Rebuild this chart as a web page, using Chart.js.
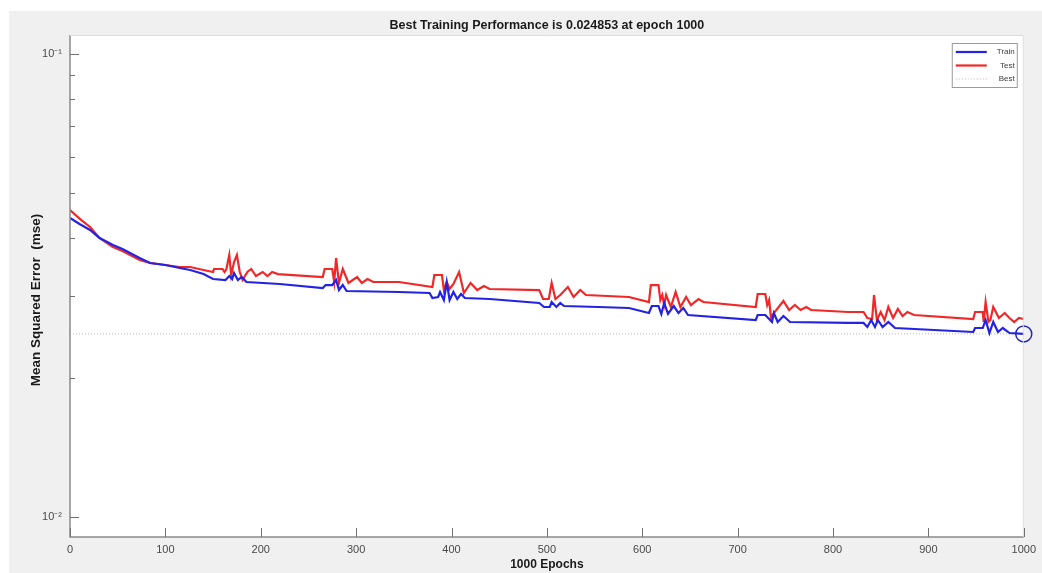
<!DOCTYPE html>
<html>
<head>
<meta charset="utf-8">
<title>Best Training Performance</title>
<script src="https://cdn.jsdelivr.net/npm/chart.js@4.4.1/dist/chart.umd.min.js"></script>
<style>
  html, body { margin: 0; padding: 0; background: #ffffff; }
  #figura {
    position: absolute; left: 9px; top: 11px;
    width: 1033px; height: 562px;
    background: #f0f0f0;
  }
  #grafico { display: block; }
</style>
</head>
<body>
<div id="figura"><canvas id="grafico" width="1033" height="562"></canvas></div>
<script>
// error de entrenamiento (mse) por epoca
const trainEpochs = [0, 10, 21, 31, 45, 55, 73, 84, 100, 115, 126, 140, 150, 163, 167, 170, 172, 176, 180, 185,
  220, 265, 268, 275, 279, 282, 286, 290, 345, 377, 380, 386, 388, 392, 395, 398, 402, 406, 410, 414,
  440, 492, 497, 503, 505, 510, 514, 518, 554, 586, 607, 610, 617, 620, 623, 627, 633, 638, 643, 648,
  719, 721, 729, 736, 738, 742, 748, 755, 816, 832, 836, 840, 844, 847, 852, 858, 865, 947, 949, 957,
  960, 964, 968, 973, 978, 985, 1000]
const trainMse = [0.04423, 0.04293, 0.04167, 0.04004, 0.03867, 0.03791, 0.03625, 0.03536, 0.03501, 0.03449,
  0.03415, 0.03347, 0.03265, 0.03249, 0.03314, 0.03265, 0.03364, 0.03249, 0.03298, 0.03217,
  0.03185, 0.03122, 0.03169, 0.03169, 0.03249, 0.03091, 0.03169, 0.03076, 0.03061, 0.03046,
  0.02971, 0.02986, 0.03061, 0.02941, 0.03217, 0.02941, 0.03061, 0.02956, 0.03031, 0.02971,
  0.02956, 0.02898, 0.02841, 0.02841, 0.02912, 0.02841, 0.02898, 0.02855, 0.02841, 0.02827,
  0.02757, 0.02855, 0.02855, 0.02744, 0.02898, 0.02744, 0.02855, 0.02757, 0.02827, 0.02730,
  0.02663, 0.02730, 0.02730, 0.02637, 0.02757, 0.02637, 0.02716, 0.02637, 0.02624, 0.02624,
  0.02572, 0.02663, 0.02572, 0.02663, 0.02572, 0.02637, 0.02559, 0.02509, 0.02559, 0.02559,
  0.02663, 0.02496, 0.02637, 0.02509, 0.02559, 0.02496, 0.024853]

// error de prueba (mse) por epoca
const testEpochs = [0, 10, 21, 31, 45, 55, 73, 84, 100, 115, 126, 140, 150, 151, 160, 162, 164, 167, 169, 172,
  175, 178, 181, 186, 190, 195, 202, 207, 212, 218, 265, 267, 275, 277, 279, 282, 286, 292, 301, 306,
  312, 318, 345, 380, 382, 390, 392, 395, 398, 402, 408, 413, 420, 427, 434, 440, 492, 496, 502, 505,
  509, 514, 522, 528, 535, 541, 586, 607, 609, 617, 619, 621, 623, 625, 630, 635, 640, 646, 651, 659,
  664, 719, 721, 729, 731, 733, 735, 738, 748, 754, 760, 766, 772, 777, 816, 832, 836, 841, 843, 846,
  850, 854, 858, 863, 868, 873, 878, 885, 947, 949, 957, 958, 960, 963, 965, 968, 974, 980, 985, 990,
  995, 1000]
const testMse = [0.04603, 0.04410, 0.04229, 0.04004, 0.03829, 0.03753, 0.03589, 0.03536, 0.03501, 0.03466,
  0.03466, 0.03415, 0.03381, 0.03432, 0.03432, 0.03381, 0.03432, 0.03679, 0.03331, 0.03553,
  0.03679, 0.03381, 0.03249, 0.03381, 0.03432, 0.03314, 0.03381, 0.03314, 0.03381, 0.03347,
  0.03298, 0.03432, 0.03432, 0.03217, 0.03625, 0.03201, 0.03432, 0.03201, 0.03298, 0.03201,
  0.03265, 0.03217, 0.03217, 0.03138, 0.03331, 0.03331, 0.03091, 0.03217, 0.03107, 0.03185,
  0.03381, 0.03046, 0.03201, 0.03091, 0.03154, 0.03107, 0.03091, 0.02956, 0.02956, 0.03201,
  0.02956, 0.03016, 0.03138, 0.02986, 0.03091, 0.03016, 0.02986, 0.02912, 0.03169, 0.03169,
  0.02941, 0.03016, 0.02869, 0.03016, 0.02841, 0.03061, 0.02841, 0.02986, 0.02869, 0.02956,
  0.02912, 0.02841, 0.03031, 0.03031, 0.02869, 0.02941, 0.02690, 0.02757, 0.02927, 0.02799,
  0.02869, 0.02799, 0.02841, 0.02799, 0.02771, 0.02771, 0.02690, 0.02676, 0.03016, 0.02663,
  0.02771, 0.02663, 0.02841, 0.02690, 0.02813, 0.02716, 0.02771, 0.02730, 0.02676, 0.02771,
  0.02771, 0.02637, 0.02912, 0.02637, 0.02663, 0.02841, 0.02690, 0.02757, 0.02690, 0.02637,
  0.02690, 0.02676]

const bestEpoch = 1000
const bestMse = 0.024853

// marcas de los ejes
const xTicks = [0, 100, 200, 300, 400, 500, 600, 700, 800, 900, 1000]
const yMajorTicks = [0.01, 0.1]
const yTickLabels = ['10⁻²', '10⁻¹']
const yMinorTicks = [0.02, 0.03, 0.04, 0.05, 0.06, 0.07, 0.08, 0.09]

const fuente = "'Liberation Sans', Arial, sans-serif"

const aPuntos = (xs, ys) => xs.map((x, i) => ({ x: x, y: ys[i] }))

// fondo blanco del area de ejes
const fondoEjes = {
    id: 'fondoEjes',
    beforeDraw(chart) {
        const { ctx, chartArea: a } = chart
        ctx.save()
        ctx.fillStyle = '#ffffff'
        ctx.fillRect(a.left, a.top, a.right - a.left, a.bottom - a.top)
        ctx.restore()
    }
}

// lineas de ejes y marcas hacia adentro, estilo matlab
const marcasEjes = {
    id: 'marcasEjes',
    afterDraw(chart) {
        const { ctx, chartArea: a, scales } = chart
        ctx.save()
        ctx.strokeStyle = '#8a8a8a'
        ctx.lineWidth = 1.5
        ctx.beginPath()
        ctx.moveTo(a.left, a.top)
        ctx.lineTo(a.left, a.bottom)
        ctx.lineTo(a.right, a.bottom)
        ctx.stroke()
        ctx.strokeStyle = '#dcdcdc'
        ctx.lineWidth = 1
        ctx.beginPath()
        ctx.moveTo(a.left, a.top + 0.5)
        ctx.lineTo(a.right - 0.5, a.top + 0.5)
        ctx.lineTo(a.right - 0.5, a.bottom)
        ctx.stroke()

        ctx.strokeStyle = '#707070'
        ctx.lineWidth = 1
        ctx.beginPath()
        xTicks.forEach(t => {
            const px = Math.round(scales.x.getPixelForValue(t)) + 0.5
            ctx.moveTo(px, a.bottom)
            ctx.lineTo(px, a.bottom - 9)
        })
        yMajorTicks.forEach(t => {
            const py = Math.round(scales.y.getPixelForValue(t)) + 0.5
            ctx.moveTo(a.left, py)
            ctx.lineTo(a.left + 9, py)
        })
        yMinorTicks.forEach(t => {
            const py = Math.round(scales.y.getPixelForValue(t)) + 0.5
            ctx.moveTo(a.left, py)
            ctx.lineTo(a.left + 5, py)
        })
        ctx.stroke()
        ctx.restore()
    }
}

// titulo del grafico y del eje y, centrados como en matlab
const titulos = {
    id: 'titulos',
    afterDraw(chart) {
        const { ctx, chartArea: a } = chart
        ctx.save()
        ctx.fillStyle = '#1a1a1a'
        ctx.textAlign = 'center'
        ctx.textBaseline = 'middle'
        ctx.font = 'bold 12.5px ' + fuente
        ctx.fillText('Best Training Performance is ' + bestMse + ' at epoch ' + bestEpoch, (a.left + a.right) / 2, 15)
        ctx.translate(27, (a.top + a.bottom) / 2 + 14)
        ctx.rotate(-Math.PI / 2)
        ctx.font = 'bold 13.5px ' + fuente
        ctx.fillText('Mean Squared Error  (mse)', 0, 0)
        ctx.restore()
    }
}

// leyenda en recuadro, esquina superior derecha
const leyendaCaja = {
    id: 'leyendaCaja',
    afterDraw(chart) {
        const { ctx, chartArea: a } = chart
        const items = chart.data.datasets.filter(d => d.enLeyenda)
        const ancho = 65, alto = 44
        const x0 = a.right - 7 - ancho, y0 = a.top + 8
        ctx.save()
        ctx.fillStyle = '#ffffff'
        ctx.fillRect(x0, y0, ancho, alto)
        ctx.strokeStyle = '#9a9a9a'
        ctx.lineWidth = 1
        ctx.strokeRect(x0 + 0.5, y0 + 0.5, ancho, alto)
        ctx.font = '8px ' + fuente
        ctx.textAlign = 'right'
        ctx.textBaseline = 'middle'
        items.forEach((d, i) => {
            const y = y0 + 9 + i * 13.5
            ctx.strokeStyle = d.borderColor
            ctx.lineWidth = d.borderWidth
            ctx.setLineDash(d.borderDash || [])
            ctx.beginPath()
            ctx.moveTo(x0 + 4, y)
            ctx.lineTo(x0 + 35, y)
            ctx.stroke()
            ctx.setLineDash([])
            ctx.fillStyle = '#3a3a3a'
            ctx.fillText(d.label, x0 + ancho - 2, y)
        })
        ctx.restore()
    }
}

const config = {
    type: 'line',
    data: {
        datasets: [
            {
                label: 'Best Epoch',
                data: [{ x: bestEpoch, y: bestMse }],
                showLine: false,
                pointRadius: 8,
                pointHoverRadius: 8,
                pointBorderWidth: 1.5,
                pointBorderColor: '#2424c0',
                pointBackgroundColor: 'rgba(0,0,0,0)',
                clip: false,
                order: 0
            },
            {
                label: 'Train',
                enLeyenda: true,
                data: aPuntos(trainEpochs, trainMse),
                borderColor: '#2323e6',
                borderWidth: 2.2,
                pointRadius: 0,
                tension: 0,
                order: 1
            },
            {
                label: 'Test',
                enLeyenda: true,
                data: aPuntos(testEpochs, testMse),
                borderColor: '#f02828',
                borderWidth: 2.2,
                pointRadius: 0,
                tension: 0,
                order: 2
            },
            {
                label: 'Best',
                enLeyenda: true,
                data: [{ x: xTicks[0], y: bestMse }, { x: xTicks[xTicks.length - 1], y: bestMse }],
                borderColor: '#b8b8b8',
                borderWidth: 1,
                borderDash: [1, 2],
                pointRadius: 0,
                order: 3
            }
        ]
    },
    options: {
        responsive: false,
        animation: false,
        events: [],
        layout: { padding: { left: 0, right: 17, top: 24, bottom: 0 } },
        plugins: {
            legend: { display: false },
            tooltip: { enabled: false },
            title: { display: false }
        },
        scales: {
            x: {
                type: 'linear',
                min: 0,
                max: 1000,
                afterBuildTicks: s => { s.ticks = xTicks.map(v => ({ value: v })) },
                afterFit: s => { s.height = 36 },
                grid: { display: false, drawTicks: false },
                border: { display: false },
                ticks: {
                    autoSkip: false,
                    maxRotation: 0,
                    padding: 6,
                    color: '#4a4a4a',
                    font: { family: fuente, size: 11 },
                    callback: v => String(v)
                },
                title: {
                    display: true,
                    text: trainEpochs[trainEpochs.length - 1] + ' Epochs',
                    color: '#1a1a1a',
                    font: { family: fuente, size: 12, weight: 'bold', lineHeight: 1.2 },
                    padding: { top: 0, bottom: 1 }
                }
            },
            y: {
                type: 'logarithmic',
                min: 0.00905,
                max: 0.1099,
                afterBuildTicks: s => { s.ticks = yMajorTicks.map(v => ({ value: v })) },
                afterFit: s => { s.width = 61 },
                grid: { display: false, drawTicks: false },
                border: { display: false },
                ticks: {
                    autoSkip: false,
                    padding: 8,
                    color: '#4a4a4a',
                    font: { family: fuente, size: 11 },
                    callback: (v, i) => yTickLabels[i]
                },
                title: { display: false }
            }
        }
    },
    plugins: [fondoEjes, marcasEjes, titulos, leyendaCaja]
}

document.addEventListener('DOMContentLoaded', () => {
    const grafico = new Chart(document.getElementById('grafico'), config)
})
</script>
</body>
</html>
